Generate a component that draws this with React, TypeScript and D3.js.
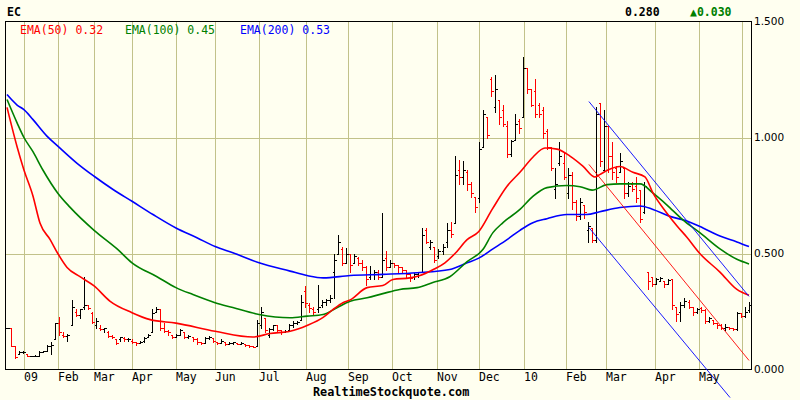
import React, { useRef, useEffect } from "react";
import * as d3 from "d3";

// ---- data ----
const symbol = "EC";
const lastPrice = "0.280";
const lastChange = "▲0.030";
const source = "RealtimeStockquote.com";

// one bar every ~2 trading days: [open, high, low, close]
const bars: [number, number, number, number][] = [
  [0.18, 0.18, 0.18, 0.18], [0.18, 0.18, 0.1, 0.1], [0.1, 0.1, 0.05, 0.055], [0.065, 0.08, 0.065, 0.075],
  [0.075, 0.08, 0.07, 0.075], [0.065, 0.065, 0.06, 0.06], [0.06, 0.06, 0.058, 0.06], [0.06, 0.062, 0.06, 0.06],
  [0.06, 0.08, 0.06, 0.075], [0.075, 0.08, 0.075, 0.08], [0.08, 0.105, 0.08, 0.1], [0.1, 0.12, 0.065, 0.105],
  [0.13, 0.2, 0.13, 0.2], [0.2, 0.225, 0.15, 0.16], [0.15, 0.16, 0.14, 0.145], [0.145, 0.155, 0.125, 0.15],
  [0.19, 0.3, 0.19, 0.27], [0.25, 0.26, 0.23, 0.235], [0.235, 0.26, 0.22, 0.26], [0.27, 0.4, 0.26, 0.28],
  [0.28, 0.28, 0.26, 0.265], [0.245, 0.25, 0.2, 0.205], [0.19, 0.22, 0.18, 0.21], [0.18, 0.19, 0.17, 0.175],
  [0.175, 0.18, 0.16, 0.18], [0.16, 0.165, 0.14, 0.145], [0.145, 0.15, 0.135, 0.14], [0.13, 0.13, 0.11, 0.115],
  [0.13, 0.14, 0.125, 0.14], [0.135, 0.14, 0.125, 0.13], [0.13, 0.135, 0.125, 0.13], [0.125, 0.13, 0.115, 0.12],
  [0.12, 0.12, 0.105, 0.115], [0.115, 0.125, 0.115, 0.12], [0.125, 0.14, 0.12, 0.135], [0.14, 0.155, 0.14, 0.15],
  [0.16, 0.26, 0.16, 0.245], [0.25, 0.27, 0.25, 0.26], [0.26, 0.26, 0.17, 0.18], [0.18, 0.2, 0.16, 0.165],
  [0.165, 0.17, 0.15, 0.16], [0.15, 0.15, 0.135, 0.14], [0.14, 0.155, 0.14, 0.15], [0.15, 0.175, 0.15, 0.17],
  [0.16, 0.16, 0.135, 0.14], [0.14, 0.15, 0.135, 0.145], [0.14, 0.14, 0.125, 0.13], [0.13, 0.135, 0.11, 0.12],
  [0.12, 0.12, 0.11, 0.115], [0.115, 0.14, 0.115, 0.135], [0.135, 0.145, 0.13, 0.14], [0.135, 0.135, 0.12, 0.125],
  [0.12, 0.12, 0.11, 0.115], [0.115, 0.13, 0.115, 0.125], [0.12, 0.12, 0.105, 0.11], [0.11, 0.12, 0.11, 0.115],
  [0.115, 0.12, 0.11, 0.118], [0.115, 0.115, 0.11, 0.112], [0.112, 0.118, 0.11, 0.115], [0.11, 0.11, 0.1, 0.105],
  [0.105, 0.105, 0.095, 0.1], [0.1, 0.1, 0.095, 0.098], [0.1, 0.215, 0.1, 0.2], [0.19, 0.27, 0.18, 0.25],
  [0.22, 0.22, 0.16, 0.17], [0.15, 0.18, 0.14, 0.175], [0.175, 0.19, 0.17, 0.19], [0.19, 0.19, 0.165, 0.17],
  [0.17, 0.17, 0.155, 0.16], [0.16, 0.17, 0.16, 0.165], [0.17, 0.195, 0.17, 0.19], [0.19, 0.21, 0.185, 0.2],
  [0.2, 0.21, 0.195, 0.205], [0.215, 0.32, 0.215, 0.29], [0.34, 0.36, 0.27, 0.285], [0.28, 0.285, 0.25, 0.265],
  [0.26, 0.27, 0.24, 0.25], [0.26, 0.365, 0.25, 0.27], [0.28, 0.3, 0.27, 0.29], [0.29, 0.305, 0.28, 0.3],
  [0.3, 0.32, 0.29, 0.31], [0.42, 0.5, 0.31, 0.47], [0.5, 0.58, 0.5, 0.55], [0.52, 0.53, 0.45, 0.46],
  [0.46, 0.525, 0.46, 0.5], [0.5, 0.5, 0.42, 0.45], [0.46, 0.5, 0.46, 0.49], [0.48, 0.485, 0.45, 0.46],
  [0.46, 0.47, 0.43, 0.44], [0.44, 0.445, 0.365, 0.39], [0.4, 0.445, 0.39, 0.41], [0.41, 0.43, 0.39, 0.42],
  [0.42, 0.43, 0.39, 0.4], [0.4, 0.675, 0.4, 0.47], [0.48, 0.51, 0.43, 0.44], [0.44, 0.47, 0.44, 0.46],
  [0.46, 0.46, 0.44, 0.45], [0.45, 0.45, 0.42, 0.44], [0.44, 0.44, 0.42, 0.43], [0.43, 0.43, 0.395, 0.41],
  [0.41, 0.41, 0.38, 0.395], [0.4, 0.415, 0.39, 0.41], [0.41, 0.42, 0.4, 0.42], [0.42, 0.61, 0.42, 0.58],
  [0.6, 0.61, 0.545, 0.55], [0.53, 0.56, 0.52, 0.55], [0.53, 0.53, 0.465, 0.47], [0.49, 0.52, 0.48, 0.51],
  [0.51, 0.54, 0.5, 0.53], [0.55, 0.63, 0.53, 0.6], [0.6, 0.635, 0.57, 0.585], [0.63, 0.92, 0.63, 0.84],
  [0.86, 0.905, 0.8, 0.83], [0.83, 0.9, 0.8, 0.86], [0.85, 0.86, 0.775, 0.8], [0.8, 0.81, 0.745, 0.76],
  [0.745, 0.745, 0.68, 0.7], [0.74, 0.98, 0.72, 0.95], [0.96, 1.12, 0.96, 1.1], [1.09, 1.09, 1.0, 1.01],
  [1.25, 1.26, 1.18, 1.2], [1.13, 1.27, 1.11, 1.21], [1.16, 1.16, 1.06, 1.09], [1.12, 1.14, 1.05, 1.06],
  [1.05, 1.07, 0.915, 0.93], [0.93, 0.99, 0.92, 0.985], [0.99, 1.1, 0.99, 1.06], [1.07, 1.08, 1.02, 1.04],
  [1.09, 1.345, 1.09, 1.3], [1.3, 1.3, 1.19, 1.21], [1.21, 1.21, 1.135, 1.14], [1.2, 1.25, 1.09, 1.1],
  [1.14, 1.15, 1.09, 1.1], [1.12, 1.13, 1.0, 1.02], [1.03, 1.035, 0.95, 0.96], [0.96, 0.96, 0.86, 0.87],
  [0.78, 0.87, 0.74, 0.8], [0.89, 0.98, 0.88, 0.92], [0.89, 0.935, 0.82, 0.83], [0.76, 0.87, 0.74, 0.84],
  [0.84, 0.85, 0.69, 0.72], [0.72, 0.73, 0.645, 0.66], [0.66, 0.74, 0.65, 0.72], [0.71, 0.71, 0.655, 0.68],
  [0.6, 0.635, 0.55, 0.62], [0.61, 0.61, 0.55, 0.56], [0.56, 1.13, 0.55, 1.1], [1.15, 1.15, 0.875, 0.9],
  [0.86, 1.12, 0.86, 1.05], [1.05, 1.05, 0.85, 0.92], [0.92, 0.98, 0.82, 0.85], [0.87, 0.875, 0.81, 0.83],
  [0.85, 0.935, 0.85, 0.9], [0.87, 0.87, 0.74, 0.76], [0.76, 0.81, 0.75, 0.79], [0.8, 0.81, 0.77, 0.78],
  [0.79, 0.83, 0.72, 0.74], [0.775, 0.775, 0.635, 0.65], [0.68, 0.81, 0.675, 0.79], [0.42, 0.42, 0.345, 0.38],
  [0.4, 0.4, 0.36, 0.37], [0.37, 0.395, 0.37, 0.39], [0.38, 0.4, 0.38, 0.395], [0.38, 0.38, 0.355, 0.37],
  [0.37, 0.39, 0.37, 0.385], [0.39, 0.39, 0.26, 0.28], [0.27, 0.27, 0.21, 0.24], [0.25, 0.29, 0.21, 0.28],
  [0.28, 0.31, 0.27, 0.295], [0.29, 0.3, 0.265, 0.27], [0.27, 0.27, 0.235, 0.25], [0.25, 0.265, 0.245, 0.26],
  [0.265, 0.27, 0.25, 0.255], [0.255, 0.26, 0.2, 0.21], [0.21, 0.225, 0.205, 0.22], [0.215, 0.215, 0.195, 0.2],
  [0.2, 0.2, 0.18, 0.19], [0.19, 0.195, 0.175, 0.18], [0.18, 0.195, 0.17, 0.185], [0.185, 0.185, 0.175, 0.18],
  [0.18, 0.18, 0.17, 0.175], [0.175, 0.25, 0.17, 0.245], [0.245, 0.245, 0.225, 0.23], [0.23, 0.27, 0.225, 0.25],
  [0.255, 0.29, 0.25, 0.28],
];

// month gridlines, position in bar units
const monthTicks: { label: string; at: number }[] = [
  { label: "09", at: 4.3 }, { label: "Feb", at: 12.7 }, { label: "Mar", at: 21.6 },
  { label: "Apr", at: 31.1 }, { label: "May", at: 41.9 }, { label: "Jun", at: 51.6 },
  { label: "Jul", at: 62.6 }, { label: "Aug", at: 74.1 }, { label: "Sep", at: 84.6 },
  { label: "Oct", at: 95.4 }, { label: "Nov", at: 106.7 }, { label: "Dec", at: 117.1 },
  { label: "10", at: 128.3 }, { label: "Feb", at: 138.7 }, { label: "Mar", at: 148.6 },
  { label: "Apr", at: 160.8 }, { label: "May", at: 171.6 }, { label: "Jun", at: 182.3 },
];

const yTicks = [0, 0.5, 1.0, 1.5];

// moving averages sampled along the chart: [bar, value]
const ema50: [number, number][] = [
  [0, 1.13], [2.5, 0.96], [4.2, 0.86], [6.4, 0.75], [8.2, 0.63], [10.7, 0.56], [12.6, 0.5],
  [14.9, 0.44], [18.1, 0.4], [21.6, 0.36], [25.5, 0.295], [31, 0.245], [35.5, 0.215], [41.9, 0.2],
  [51.6, 0.165], [61, 0.14], [65.2, 0.155], [70.2, 0.165], [74.4, 0.19], [78.4, 0.225], [80.8, 0.258],
  [83.3, 0.288], [85.1, 0.3], [89.3, 0.353], [93.2, 0.362], [95.7, 0.388], [99.9, 0.395], [102.4, 0.405],
  [105.6, 0.43], [108.6, 0.46], [111.1, 0.5], [114.1, 0.56], [117, 0.595], [120.3, 0.69], [124, 0.79],
  [127.2, 0.85], [130.4, 0.915], [133.4, 0.955], [136.4, 0.95], [139.6, 0.92], [142.8, 0.877],
  [145.8, 0.83], [147, 0.84], [149, 0.86], [152, 0.875], [155.2, 0.85], [158.2, 0.83], [160.2, 0.76],
  [163.6, 0.675], [166.1, 0.62], [168.6, 0.57], [171.8, 0.5], [176.8, 0.42], [181, 0.345], [184, 0.32],
];
const ema100: [number, number][] = [
  [0, 1.164], [2.5, 1.063], [4.2, 1.0], [6.4, 0.94], [8.9, 0.86], [12.6, 0.76], [15.6, 0.7],
  [21.6, 0.6], [27.3, 0.52], [31, 0.46], [37.2, 0.4], [41.9, 0.353], [46.1, 0.323], [51.6, 0.288],
  [56, 0.267], [62.5, 0.237], [70.2, 0.223], [74.4, 0.23], [78.4, 0.237], [81.8, 0.266], [85.1, 0.294],
  [89.3, 0.309], [93.2, 0.327], [97.4, 0.345], [101.7, 0.353], [105.6, 0.375], [109.8, 0.4],
  [114.1, 0.465], [118, 0.517], [120.5, 0.59], [123, 0.633], [127.2, 0.69], [130.4, 0.746],
  [133.9, 0.784], [138.8, 0.793], [142.1, 0.788], [145.1, 0.773], [148.8, 0.797], [152, 0.8],
  [157, 0.8], [160.2, 0.76], [163.6, 0.71], [167.6, 0.645], [171.8, 0.59], [176.8, 0.52], [181, 0.475],
  [184, 0.455],
];
const ema200: [number, number][] = [
  [0, 1.185], [2.5, 1.14], [4.2, 1.12], [6.4, 1.078], [9.9, 1.006], [12.6, 0.963], [17.3, 0.89],
  [21.6, 0.833], [26.3, 0.776], [31, 0.725], [36.2, 0.668], [41.9, 0.61], [47.1, 0.568], [51.6, 0.53],
  [56, 0.503], [62.5, 0.46], [70.2, 0.424], [74.4, 0.405], [78.4, 0.395], [85.1, 0.405], [93.2, 0.41],
  [101.7, 0.417], [109.8, 0.431], [114.1, 0.46], [117, 0.48], [120.5, 0.52], [124, 0.56], [127.2, 0.6],
  [130.4, 0.633], [133.9, 0.65], [138.8, 0.668], [143.8, 0.668], [147, 0.68], [152, 0.698],
  [157, 0.705], [160.2, 0.69], [164.4, 0.66], [168.6, 0.64], [172.6, 0.61], [176.8, 0.575],
  [181, 0.55], [184, 0.53],
];

const emaLegend = [
  { key: "ema50", text: "EMA(50) 0.32" },
  { key: "ema100", text: "EMA(100) 0.45" },
  { key: "ema200", text: "EMA(200) 0.53" },
];

// trend channel: [bar, value] at each end
const channelUpper: [number, number][] = [[144.3, 1.155], [184, 0.315]];
const channelMid: [number, number][] = [[144.3, 0.884], [184, 0.039]];
const channelLower: [number, number][] = [[144.3, 0.612], [179.3, -0.121]];

const colors: Record<string, string> = {
  ema50: "#ff0000",
  ema100: "#008000",
  ema200: "#0000ff",
};

const mono = "'DejaVu Sans Mono', 'Liberation Mono', monospace";

const App: React.FC = () => {
  const svgRef = useRef<SVGSVGElement>(null);

  useEffect(() => {
    const width = 800;
    const height = 400;
    const plot = { left: 5, top: 21, right: 751, bottom: 369 };

    const svg = d3.select(svgRef.current);
    svg.selectAll("*").remove();
    svg.attr("width", width).attr("height", height);

    svg.append("rect").attr("width", width).attr("height", height).attr("fill", "#fffff0");

    const x = d3.scaleLinear().domain([0, bars.length - 1]).range([7, 749]);
    const y = d3.scaleLinear().domain([0, 1.5]).range([plot.bottom + 0.5, plot.top + 0.5]);
    const px = (v: number) => Math.round(v) + 0.5;

    // grid
    const grid = svg.append("g").attr("stroke", "#c2c28a").attr("stroke-width", 1).attr("shape-rendering", "crispEdges");
    monthTicks.forEach(t => {
      grid.append("line")
        .attr("x1", px(x(t.at))).attr("x2", px(x(t.at)))
        .attr("y1", plot.top).attr("y2", plot.bottom);
    });
    yTicks.filter(v => v > 0 && v < 1.5).forEach(v => {
      grid.append("line")
        .attr("x1", plot.left).attr("x2", plot.right)
        .attr("y1", px(y(v))).attr("y2", px(y(v)));
    });

    // price bars
    const barG = svg.append("g").attr("stroke-width", 1).attr("fill", "none").attr("shape-rendering", "crispEdges");
    bars.forEach((b, i) => {
      const [o, h, l, c] = b;
      const cx = px(x(i));
      const path = `M${cx},${px(y(h)) - 0.5}V${px(y(l)) + 0.5}` +
        `M${cx - 2},${px(y(o))}H${cx}` +
        `M${cx},${px(y(c))}H${cx + 2}`;
      barG.append("path").attr("d", path).attr("stroke", c < o ? "#ff0000" : "#000000");
    });

    // EMAs
    const line = d3.line<[number, number]>()
      .x(d => x(d[0]))
      .y(d => y(d[1]))
      .curve(d3.curveMonotoneX);
    const emaSeries: [string, [number, number][]][] = [["ema200", ema200], ["ema100", ema100], ["ema50", ema50]];
    emaSeries.forEach(([key, pts]) => {
      svg.append("path").attr("d", line(pts)).attr("fill", "none")
        .attr("stroke", colors[key]).attr("stroke-width", 1.6);
    });

    // frame
    svg.append("rect")
      .attr("x", plot.left + 0.5).attr("y", plot.top + 0.5)
      .attr("width", plot.right - plot.left).attr("height", plot.bottom - plot.top)
      .attr("fill", "none").attr("stroke", "#000").attr("shape-rendering", "crispEdges");

    // trend channel (drawn unclipped, like the source)
    const straight = d3.line<[number, number]>().x(d => x(d[0])).y(d => y(d[1]));
    [[channelUpper, "#0000ff"], [channelMid, "#ff0000"], [channelLower, "#0000ff"]].forEach(([pts, col]) => {
      svg.append("path").attr("d", straight(pts as [number, number][])).attr("fill", "none")
        .attr("stroke", col as string).attr("stroke-width", 0.9);
    });

    // x labels
    const charW = 7;
    monthTicks.forEach(t => {
      const tx = px(x(t.at));
      if (tx + t.label.length * charW > plot.right) return;
      svg.append("text").attr("x", tx - 0.5).attr("y", 381)
        .attr("font-family", mono).attr("font-size", 11.5).attr("fill", "#000")
        .text(t.label);
    });

    // y labels
    yTicks.forEach(v => {
      svg.append("text").attr("x", 754).attr("y", y(v)).attr("dy", "0.36em")
        .attr("font-family", "'DejaVu Sans', sans-serif").attr("font-size", 10.5).attr("fill", "#000")
        .text(d3.format(".3f")(v));
    });

    // header texts
    svg.append("text").attr("x", 7).attr("y", 16).attr("font-family", mono).attr("font-size", 11.5)
      .attr("font-weight", "bold").text(symbol);
    svg.append("text").attr("x", 625).attr("y", 16).attr("font-family", mono).attr("font-size", 11.5)
      .attr("font-weight", "bold").text(lastPrice);
    svg.append("text").attr("x", 690).attr("y", 16).attr("font-family", mono).attr("font-size", 11.5)
      .attr("font-weight", "bold").attr("fill", "#008000").text(lastChange);

    // legend
    const legendX = [20, 125, 240];
    emaLegend.forEach((e, i) => {
      svg.append("text").attr("x", legendX[i]).attr("y", 33.5).attr("font-family", mono)
        .attr("font-size", 11.5).attr("fill", colors[e.key]).text(e.text);
    });

    // source
    svg.append("text").attr("x", 313).attr("y", 396).attr("font-family", mono).attr("font-size", 11.8)
      .attr("font-weight", "bold").text(source);
  }, []);

  return (
    <div style={{ position: "absolute", left: 0, top: 0 }}>
      <svg ref={svgRef} style={{ display: "block" }} />
    </div>
  );
};

export default App;
